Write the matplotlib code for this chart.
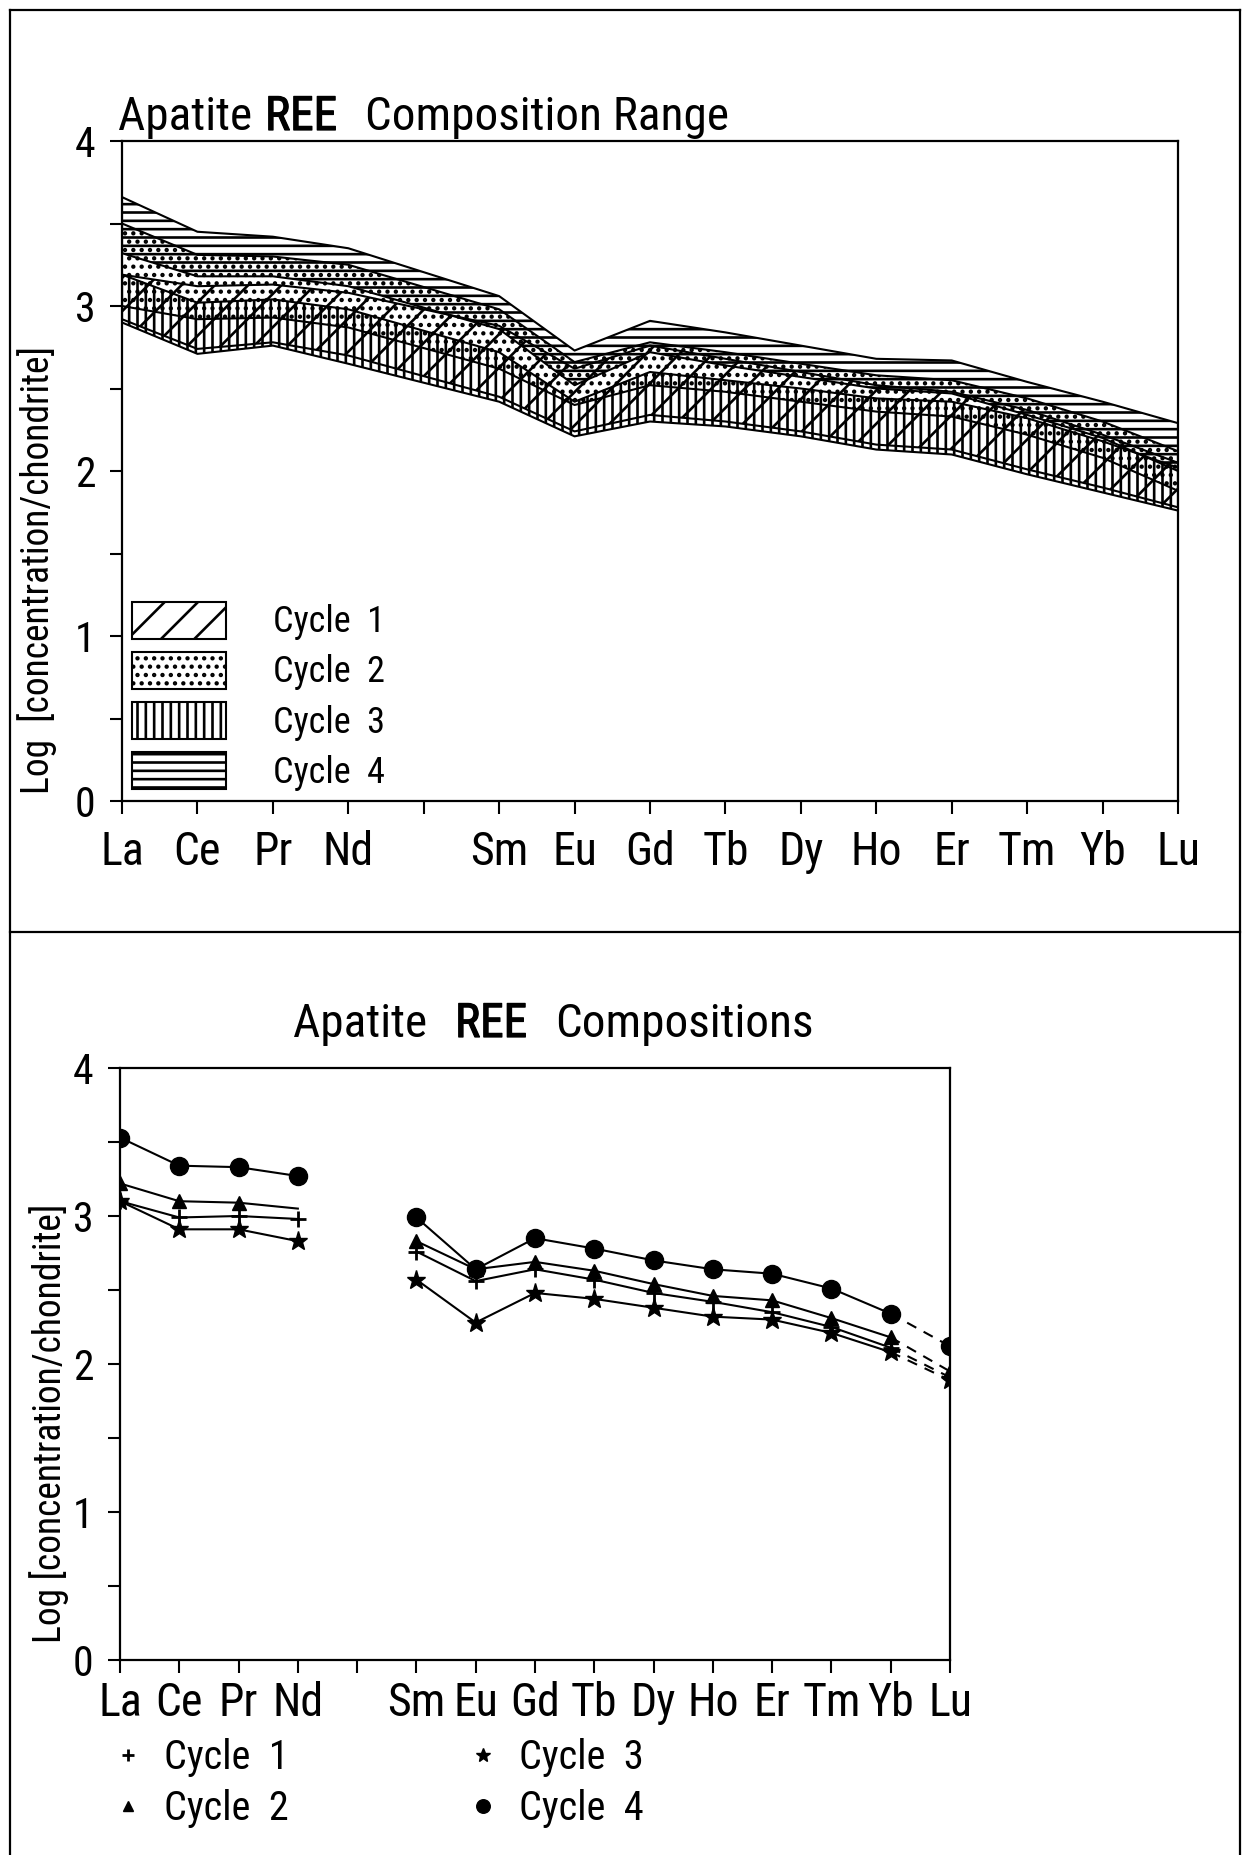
import os
import matplotlib
matplotlib.use("Agg")
import matplotlib.pyplot as plt
from matplotlib import font_manager as fm
from matplotlib import patheffects
from matplotlib.lines import Line2D
from matplotlib.patches import Patch

plt.rcParams['hatch.color'] = 'black'
plt.rcParams['hatch.linewidth'] = 1.9

# element axis; the blank slot is Pm
ree_labels = ['La', 'Ce', 'Pr', 'Nd', '', 'Sm', 'Eu', 'Gd', 'Tb', 'Dy', 'Ho', 'Er', 'Tm', 'Yb', 'Lu']
measured = ['La', 'Ce', 'Pr', 'Nd', 'Sm', 'Eu', 'Gd', 'Tb', 'Dy', 'Ho', 'Er', 'Tm', 'Yb', 'Lu']

# composition range per cycle (log chondrite-normalised)
cyc1_min = [2.92, 2.74, 2.78, 2.70, 2.45, 2.24, 2.34, 2.30, 2.24, 2.16, 2.13, 2.01, 1.90, 1.78]
cyc1_max = [3.19, 3.12, 3.13, 3.08, 2.88, 2.62, 2.76, 2.68, 2.60, 2.52, 2.48, 2.37, 2.22, 2.05]
cyc2_min = [3.00, 2.92, 2.93, 2.87, 2.62, 2.40, 2.52, 2.48, 2.42, 2.36, 2.33, 2.22, 2.08, 1.88]
cyc2_max = [3.50, 3.31, 3.30, 3.25, 2.98, 2.66, 2.78, 2.72, 2.65, 2.58, 2.55, 2.44, 2.30, 2.12]
cyc3_min = [2.90, 2.71, 2.76, 2.65, 2.42, 2.21, 2.30, 2.27, 2.21, 2.13, 2.10, 1.98, 1.87, 1.76]
cyc3_max = [3.19, 3.02, 3.04, 2.98, 2.72, 2.42, 2.60, 2.55, 2.50, 2.44, 2.42, 2.32, 2.18, 2.02]
cyc4_min = [3.32, 3.18, 3.18, 3.12, 2.86, 2.52, 2.72, 2.64, 2.57, 2.50, 2.47, 2.34, 2.20, 2.00]
cyc4_max = [3.66, 3.45, 3.42, 3.35, 3.06, 2.73, 2.91, 2.84, 2.76, 2.68, 2.67, 2.54, 2.42, 2.29]

# mean composition per cycle
cyc1_mean = [3.10, 2.99, 3.00, 2.98, 2.76, 2.56, 2.64, 2.57, 2.48, 2.42, 2.35, 2.25, 2.11, 1.91]
cyc2_mean = [3.22, 3.10, 3.09, 3.05, 2.83, 2.64, 2.69, 2.63, 2.54, 2.46, 2.43, 2.31, 2.18, 1.95]
cyc3_mean = [3.10, 2.91, 2.91, 2.83, 2.57, 2.28, 2.48, 2.44, 2.38, 2.32, 2.30, 2.21, 2.08, 1.89]
cyc4_mean = [3.53, 3.34, 3.33, 3.27, 2.99, 2.64, 2.85, 2.78, 2.70, 2.64, 2.61, 2.51, 2.34, 2.12]

cycle_names = ['Cycle  1', 'Cycle  2', 'Cycle  3', 'Cycle  4']
hatches = ['/', '..', '||', '--']


def narrow_font():
    # lettering is a narrow stencil face; take the narrowest regular cut around
    wanted = ['notosans-extracondensed', 'liberationsansnarrow-regular',
              'notosans-condensed', 'robotocondensed-regular', 'dejavusanscondensed']
    skip = ['bold', 'italic', 'light', 'thin', 'black', 'medium', 'semi', 'oblique']
    files = sorted({f.fname for f in fm.fontManager.ttflist})
    for key in wanted:
        for f in files:
            stem = os.path.splitext(os.path.basename(f).lower())[0]
            if stem.startswith(key) and not any(s in stem[len(key):] for s in skip):
                return f
    return None


font_file = narrow_font()


def fp(size):
    if font_file:
        return fm.FontProperties(fname=font_file, size=size)
    return fm.FontProperties(family='DejaVu Sans', stretch='condensed', size=size * 0.75)


x = [ree_labels.index(e) for e in measured]
W, H = 1245, 1855
fig = plt.figure(figsize=(W / 100, H / 100), dpi=100)


def fx(px):
    return px / W


def fy(py):
    return 1 - py / H


def style_axes(ax, xpad):
    ax.set_xlim(0, 14)
    ax.set_ylim(0, 4)
    ax.set_xticks(range(len(ree_labels)))
    ax.set_xticklabels(ree_labels, fontproperties=fp(33))
    ax.set_yticks([0, 0.5, 1, 1.5, 2, 2.5, 3, 3.5, 4])
    ax.set_yticklabels(['0', '', '1', '', '2', '', '3', '', '4'], fontproperties=fp(30))
    ax.tick_params(axis='both', direction='out', length=9, width=1.5)
    ax.tick_params(axis='x', pad=xpad)
    ax.tick_params(axis='y', pad=10)
    for s in ax.spines.values():
        s.set_linewidth(1.6)


def title(ax, left, baseline, words, gaps, size):
    # heading with the middle word in heavier lettering
    heavy = [patheffects.withStroke(linewidth=0.9, foreground='black')]
    t = fig.text(fx(left), fy(baseline), words[0], fontproperties=fp(size),
                 ha='left', va='baseline')
    for i, (word, gap) in enumerate(zip(words[1:], gaps)):
        t = ax.annotate(word, xy=(1, 0), xycoords=t, xytext=(gap, 0),
                        textcoords='offset pixels', ha='left', va='bottom',
                        fontproperties=fp(size), annotation_clip=False,
                        path_effects=heavy if i == 0 else None)


# frame around the two panels
for xs, ys in [([10, 1240], [10, 10]), ([10, 10], [10, H]), ([1240, 1240], [10, H]),
               ([10, 1240], [932, 932])]:
    fig.add_artist(Line2D([fx(v) for v in xs], [fy(v) for v in ys],
                          transform=fig.transFigure, color='black', lw=1.6))

# ---- range panel ----
ax1 = fig.add_axes([fx(122), fy(801), fx(1178) - fx(122), fy(141) - fy(801)])
style_axes(ax1, 12)
ranges = [(cyc3_min, cyc3_max, 2), (cyc1_min, cyc1_max, 0),
          (cyc2_min, cyc2_max, 1), (cyc4_min, cyc4_max, 3)]
for lo, hi, k in ranges:
    ax1.fill_between(x, lo, hi, facecolor='none', edgecolor='black',
                     hatch=hatches[k], linewidth=1.5)
ax1.set_ylabel('Log  [concentration/chondrite]', fontproperties=fp(27))
ax1.yaxis.set_label_coords(-0.062, 0.35)
title(ax1, 118, 130, ['Apatite', 'REE', 'Composition Range'], [13, 28], 34)

patches = [Patch(facecolor='white', edgecolor='black', hatch=hatches[k], linewidth=1.5)
           for k in range(4)]
ax1.legend(patches, cycle_names, loc='lower left', bbox_to_anchor=(10 / 1056, 10 / 660),
           frameon=False, prop=fp(26), handlelength=2.6, handleheight=1.2,
           handletextpad=1.3, labelspacing=0.32, borderpad=0, borderaxespad=0)

# ---- mean composition panel ----
ax2 = fig.add_axes([fx(120), fy(1660), fx(950) - fx(120), fy(1068) - fy(1660)])
style_axes(ax2, 6)
ax2.set_ylabel('Log [concentration/chondrite]', fontproperties=fp(27))
ax2.yaxis.set_label_coords(-0.062, 0.40)
title(ax2, 293, 1037, ['Apatite', 'REE', 'Compositions'], [28, 28], 34)

markers = [('+', 11, 2.0), ('^', 10, 1.0), ('*', 14, 1.0), ('o', 13, 1.0)]
means = [cyc1_mean, cyc2_mean, cyc3_mean, cyc4_mean]
lree_marks = [[0, 1, 2, 3], [0, 1, 2], [0, 1, 2, 3], [0, 1, 2, 3]]
for k, ys in enumerate(means):
    m, ms, mew = markers[k]
    kw = dict(color='black', marker=m, ms=ms, mew=mew, lw=1.5)
    ax2.plot(x[:4], ys[:4], markevery=lree_marks[k], **kw)
    ax2.plot(x[4:13], ys[4:13], **kw)
    ax2.plot(x[12:], ys[12:], ls=(0, (5, 4)), markevery=[1], **kw)

handles = [Line2D([], [], color='black', ls='none', marker=m, ms=ms * 0.75, mew=mew)
           for m, ms, mew in markers]
for col, left in enumerate([116, 471]):
    fig.legend(handles[2 * col:2 * col + 2], cycle_names[2 * col:2 * col + 2],
               loc='upper left', bbox_to_anchor=(fx(left), fy(1738)), frameon=False,
               prop=fp(29), handlelength=0.6, handletextpad=0.6, labelspacing=0.3,
               borderpad=0, borderaxespad=0)

fig.savefig('out.png', dpi=100)
